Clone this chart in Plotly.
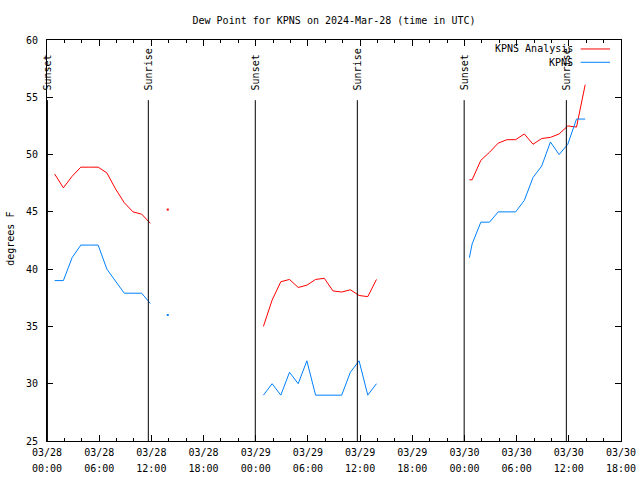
import pandas as pd
import plotly.graph_objects as go

# ---- data ----
# hourly observations at hh:53 UTC, 2024-03-28 00:53 .. 2024-03-30 13:53, plus a special obs at 03/30 00:34
hourly_times = list(pd.date_range("2024-03-28 00:53", "2024-03-30 13:53", freq="h"))
extra_time = pd.Timestamp("2024-03-30 00:34")

analysis_hourly = (
    [48.3, 47.1, 48.1, 48.9, 48.9, 48.9, 48.4, 47.0, 45.8, 45.0, 44.8, 44.0]
    + [None]
    + [45.2]
    + [None] * 10
    + [35.0, 37.3, 38.9, 39.1, 38.4, 38.6, 39.1, 39.2, 38.1, 38.0, 38.2, 37.7, 37.6, 39.1]
    + [None] * 10
    + [47.8, 49.5, 50.2, 51.0, 51.3, 51.3, 51.8, 50.9, 51.4, 51.5, 51.8, 52.5, 52.4, 56.1]
)
obs_hourly = (
    [39.0, 39.0, 41.0, 42.1, 42.1, 42.1, 40.0, 39.0, 37.9, 37.9, 37.9, 37.0]
    + [None]
    + [36.0]
    + [None] * 10
    + [29.0, 30.0, 29.0, 31.0, 30.0, 32.0, 29.0, 29.0, 29.0, 29.0, 31.0, 32.0, 29.0, 30.0]
    + [None] * 10
    + [42.2, 44.1, 44.1, 45.0, 45.0, 45.0, 46.0, 48.0, 49.0, 51.1, 50.0, 50.9, 53.1, 53.1]
)
analysis_extra = 47.8
obs_extra = 41.0

sun_times = ["2024-03-28 00:03", "2024-03-28 11:39", "2024-03-28 23:57",
             "2024-03-29 11:41", "2024-03-29 23:58", "2024-03-30 11:43"]
sun_labels = ["Sunset", "Sunrise", "Sunset", "Sunrise", "Sunset", "Sunrise"]

tick_vals = list(pd.date_range("2024-03-28 00:00", "2024-03-30 18:00", freq="6h"))
tick_dates = ["03/28", "03/28", "03/28", "03/28", "03/29", "03/29", "03/29", "03/29",
              "03/30", "03/30", "03/30", "03/30"]
tick_hours = ["00:00", "06:00", "12:00", "18:00"] * 3

title_text = "Dew Point for KPNS on 2024-Mar-28 (time in UTC)"
series_names = ["KPNS Analysis", "KPNS"]
series_colors = ["#ff0000", "#0080ff"]

# ---- assemble series (insert the special obs in time order) ----
idx = 48  # position of 03/30 00:53
times = hourly_times[:idx] + [extra_time] + hourly_times[idx:]
analysis = analysis_hourly[:idx] + [analysis_extra] + analysis_hourly[idx:]
obs = obs_hourly[:idx] + [obs_extra] + obs_hourly[idx:]

FONT = "DejaVu Sans Mono"

fig = go.Figure()
for name, vals, col in zip(series_names, [analysis, obs], series_colors):
    fig.add_trace(go.Scatter(x=times, y=vals, mode="lines", name=name,
                             line=dict(color=col, width=1), connectgaps=False,
                             showlegend=False))
    # isolated points (no neighbours) are drawn as dots
    iso_x, iso_y = [], []
    for i, v in enumerate(vals):
        if v is None:
            continue
        prev_ok = i > 0 and vals[i - 1] is not None
        next_ok = i < len(vals) - 1 and vals[i + 1] is not None
        if not prev_ok and not next_ok:
            iso_x.append(times[i]); iso_y.append(v)
    fig.add_trace(go.Scatter(x=iso_x, y=iso_y, mode="markers", name=name,
                             marker=dict(color=col, size=2, symbol="square"),
                             showlegend=False))

# sunrise / sunset lines and labels
for t, lab in zip(sun_times, sun_labels):
    fig.add_shape(type="line", xref="x", yref="paper", x0=t, x1=t, y0=0, y1=0.85,
                  line=dict(color="black", width=1))
    fig.add_annotation(x=t, xref="x", y=0.870, yref="paper", text=lab, textangle=-90,
                       showarrow=False, xanchor="center", yanchor="bottom",
                       font=dict(family=FONT, size=10, color="black"))

# custom legend (text then sample line, gnuplot style)
legend_y = [0.9776, 0.9444]
for name, col, ly in zip(series_names, series_colors, legend_y):
    fig.add_annotation(x=0.9200, xref="paper", y=ly, yref="paper", text=name,
                       showarrow=False, xanchor="right", yanchor="middle",
                       font=dict(family=FONT, size=10, color="black"))
    fig.add_shape(type="line", xref="paper", yref="paper", x0=0.9298, x1=0.9808,
                  y0=ly, y1=ly, line=dict(color=col, width=1))

# y axis label
fig.add_annotation(x=-0.064, xref="paper", y=0.505, yref="paper", text="degrees F",
                   textangle=-90, showarrow=False, xanchor="center", yanchor="middle",
                   font=dict(family=FONT, size=10, color="black"))

tick_text = [f"<span style='font-size:10px'>{d}</span><br><span style='font-size:10px'>{h}</span>"
             for d, h in zip(tick_dates, tick_hours)]

fig.update_layout(
    width=640, height=480,
    margin=dict(l=47, r=19, t=40, b=39, autoexpand=False),
    paper_bgcolor="white", plot_bgcolor="white",
    title=dict(text=title_text, x=0.5, xref="paper", y=1 - 20 / 480, yref="container",
               xanchor="center", yanchor="middle",
               font=dict(family=FONT, size=10, color="black")),
    xaxis=dict(type="date", range=["2024-03-28 00:00", "2024-03-30 18:00"],
               automargin=False,
               tickmode="array", tickvals=tick_vals, ticktext=tick_text,
               ticks="inside", ticklen=6, tickcolor="black", tickwidth=1,
               showline=True, linecolor="black", linewidth=1, mirror="ticks",
               showgrid=False, zeroline=False,
               tickfont=dict(family=FONT, size=12, color="black"),
               minor=dict(dtick=2 * 3600000, tick0="2024-03-28 00:00", ticks="inside",
                          ticklen=3, tickcolor="black", showgrid=False)),
    yaxis=dict(range=[25, 60], tick0=25, dtick=5, ticks="inside", ticklen=6,
               automargin=False,
               tickcolor="black", tickwidth=1, showline=True, linecolor="black",
               linewidth=1, mirror="ticks", showgrid=False, zeroline=False,
               ticklabelstandoff=6,
               tickfont=dict(family=FONT, size=10, color="black")),
)

fig.write_html("out.html", config={"displayModeBar": False},
               post_script="document.body.style.margin='0';")
